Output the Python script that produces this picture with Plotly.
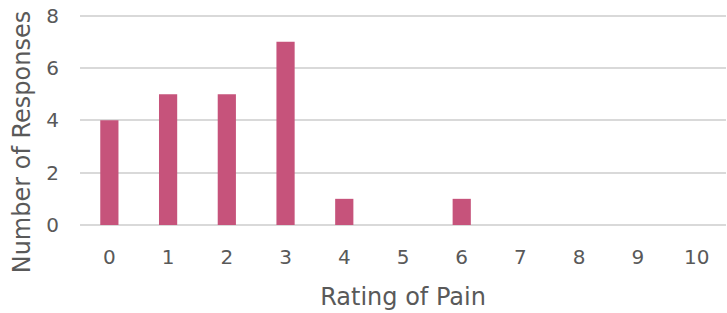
import plotly.graph_objects as go

ratings = ["0", "1", "2", "3", "4", "5", "6", "7", "8", "9", "10"]
responses = [4, 5, 5, 7, 1, 0, 1, 0, 0, 0, 0]
y_ticks = [0, 2, 4, 6, 8]

fig = go.Figure(go.Bar(x=ratings, y=responses, marker_color="#C6537B", marker_line_width=0))

font_family = "DejaVu Sans, sans-serif"
fig.update_layout(
    width=727, height=313,
    margin=dict(l=80, r=1, t=13, b=88),
    paper_bgcolor="white", plot_bgcolor="white",
    bargap=0.69,
    showlegend=False,
    font=dict(family=font_family, color="#595959", size=20),
)
fig.update_xaxes(
    type="category",
    title=dict(text="Rating of Pain", font=dict(size=24), standoff=20),
    tickfont=dict(size=20),
    showgrid=False, zeroline=False, showline=False,
    ticks="", ticklen=0, ticklabelstandoff=18,
)
fig.update_yaxes(
    range=[0, 8.1], tickvals=y_ticks,
    tickfont=dict(size=20),
    showgrid=True, gridcolor="#D9D9D9", gridwidth=1.5,
    zeroline=True, zerolinecolor="#D9D9D9", zerolinewidth=1.5,
    showline=False, ticks="", ticklabelstandoff=20,
    ticklabeloverflow="allow",
)
fig.add_annotation(
    text="Number of Responses", textangle=-90,
    xref="paper", yref="paper", x=0, y=0.39,
    xanchor="center", yanchor="middle", xshift=-58,
    showarrow=False, font=dict(size=24, color="#595959"),
)
fig.write_html(
    "out.html",
    config={"displayModeBar": False},
    post_script="document.body.style.margin='0';document.body.style.overflow='hidden';",
)
